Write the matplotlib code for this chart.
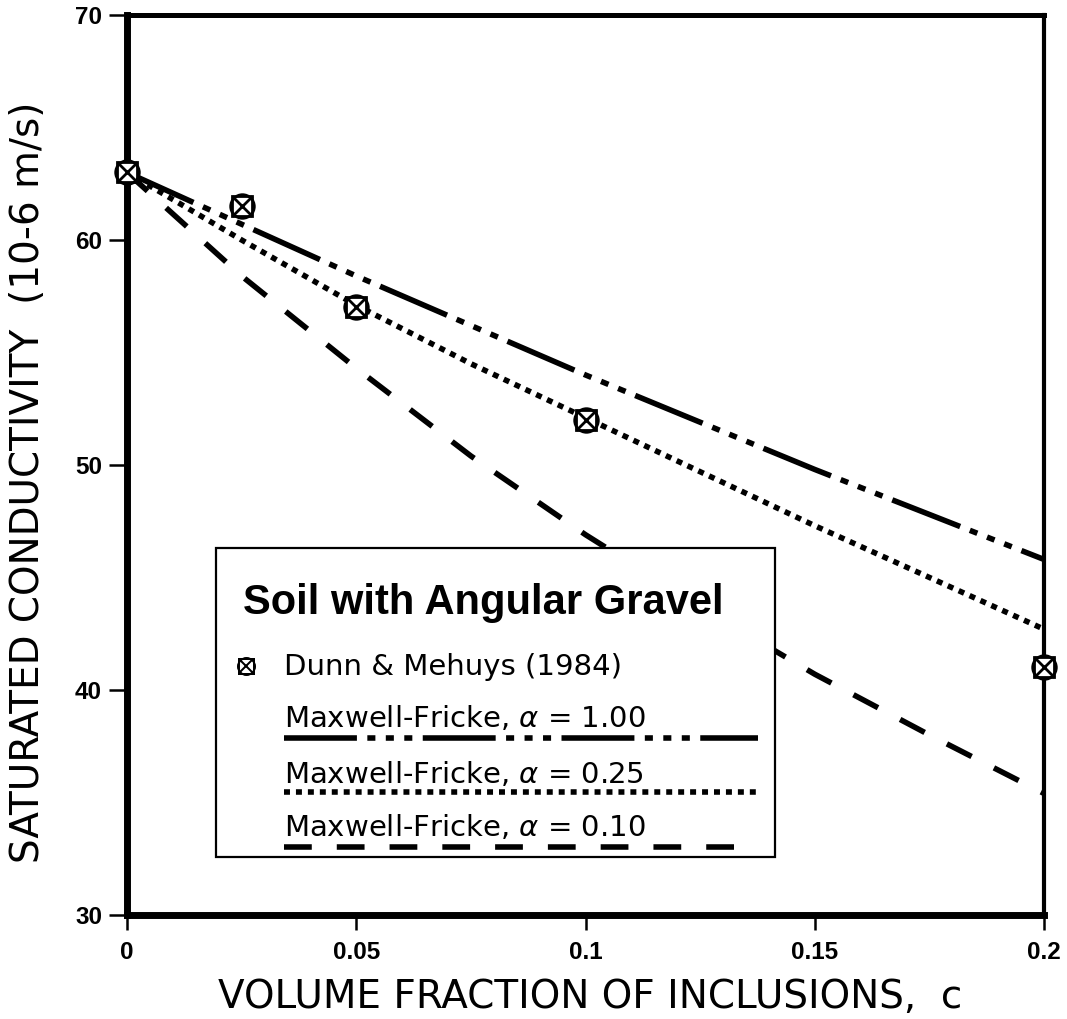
import numpy as np
import matplotlib.pyplot as plt
from matplotlib.lines import Line2D
from matplotlib.patches import Rectangle

# dash patterns given in points, not in multiples of line width
plt.rcParams['lines.scale_dashes'] = False

# values
c_grid = [0.0, 0.025, 0.05, 0.075, 0.1, 0.125, 0.15, 0.175, 0.2]
k_alpha_100 = [63.0, 60.7, 58.4, 56.2, 54.0, 51.9, 49.8, 47.8, 45.8]
k_alpha_025 = [63.0, 60.0, 57.1, 54.5, 52.1, 49.7, 47.3, 45.0, 42.7]
k_alpha_010 = [63.0, 58.4, 54.3, 50.4, 46.9, 43.7, 40.7, 38.0, 35.4]

c_meas = [0.0, 0.025, 0.05, 0.1, 0.2]
k_meas = [63.0, 61.5, 57.0, 52.0, 41.0]

x_ticks = [0, 0.05, 0.1, 0.15, 0.2]
x_ticklabels = ['0', '0.05', '0.1', '0.15', '0.2']
y_ticks = [30, 40, 50, 60, 70]
y_ticklabels = ['30', '40', '50', '60', '70']

legend_title = 'Soil with Angular Gravel'
meas_label = 'Dunn & Mehuys (1984)'
model_labels = ['Maxwell-Fricke, $\\alpha$ = 1.00',
                'Maxwell-Fricke, $\\alpha$ = 0.25',
                'Maxwell-Fricke, $\\alpha$ = 0.10']

DASHDOT = (0, (52.5, 7.5, 5.8, 7.5, 5.8, 7.5, 5.8, 7.5))
DOTTED = (0, (4.3, 4.3))
DASHED = (0, (20, 18))
LW = 4.0


def draw_marker(ax, x, y, scale=1.0, **kw):
    # square + circle + cross, like the plotted symbol in the original
    ax.plot(x, y, ls='none', marker='s', ms=15 * scale, mfc='white',
            mec='k', mew=2 * scale, **kw)
    ax.plot(x, y, ls='none', marker='o', ms=17 * scale, mfc='none',
            mec='k', mew=2 * scale, **kw)
    ax.plot(x, y, ls='none', marker='x', ms=14 * scale, mec='k',
            mew=2 * scale, **kw)


fig = plt.figure(figsize=(10.67, 10.19), dpi=100)
ax = fig.add_axes([0.119, 0.1021, 0.8595, 0.8832])

ax.plot(c_grid, k_alpha_100, color='k', lw=LW, ls=DASHDOT,
        dash_capstyle='butt', zorder=2)
ax.plot(c_grid, k_alpha_025, color='k', lw=LW, ls=DOTTED,
        dash_capstyle='butt', zorder=2)
ax.plot(c_grid, k_alpha_010, color='k', lw=LW, ls=DASHED,
        dash_capstyle='butt', zorder=2)
draw_marker(ax, c_meas, k_meas, clip_on=False, zorder=4)

ax.set_xlim(0, 0.2)
ax.set_ylim(30, 70)

ax.tick_params(axis='y', direction='out', length=13, width=1.8, pad=5,
               labelsize=17.5, labelfontfamily='Liberation Sans')
ax.tick_params(axis='x', direction='out', length=11, width=1.8, pad=8,
               labelsize=17.5, labelfontfamily='Liberation Sans')
ax.set_xticks(x_ticks, labels=x_ticklabels, fontweight='bold')
ax.set_yticks(y_ticks, labels=y_ticklabels, fontweight='bold')

ax.spines['left'].set_linewidth(5)
ax.spines['bottom'].set_linewidth(5)
ax.spines['top'].set_linewidth(3.6)
ax.spines['right'].set_linewidth(3)

ax.set_xlabel('VOLUME FRACTION OF INCLUSIONS,  c', fontsize=28,
              family='DejaVu Sans', va='center', ha='center')
ax.set_ylabel('SATURATED CONDUCTIVITY  (10-6 m/s)', fontsize=28,
              family='DejaVu Sans', va='center', ha='center')
ax.xaxis.set_label_coords(0.505, -0.091)
ax.yaxis.set_label_coords(-0.108, 0.481)

# legend box, built by hand: text with a line sample under each model label
box = Rectangle((0.0971, 0.0644), 0.6095, 0.3434, transform=ax.transAxes,
                fc='white', ec='k', lw=1.6, zorder=5)
ax.add_patch(box)

ax.text(0.1265, 0.3344, legend_title, transform=ax.transAxes,
        family='Liberation Sans', weight='bold', fontsize=30,
        va='baseline', ha='left', zorder=6)

draw_marker(ax, [0.1298], [0.2767], scale=0.72, transform=ax.transAxes,
            clip_on=False, zorder=6)
ax.text(0.1712, 0.2667, meas_label, transform=ax.transAxes,
        family='DejaVu Sans', fontsize=21, va='baseline', ha='left', zorder=6)

text_y = [0.2089, 0.1467, 0.0878]
line_y = [0.1967, 0.1367, 0.0756]
styles = [DASHDOT, DOTTED, DASHED]
for lab, ty, ly, st in zip(model_labels, text_y, line_y, styles):
    ax.text(0.1712, ty, lab, transform=ax.transAxes, family='DejaVu Sans',
            fontsize=21, va='baseline', ha='left', zorder=6)
    ax.add_line(Line2D([0.1712, 0.6881], [ly, ly], transform=ax.transAxes,
                       color='k', lw=LW, ls=st, dash_capstyle='butt',
                       clip_on=False, zorder=6))

fig.savefig('out.png', dpi=100)
